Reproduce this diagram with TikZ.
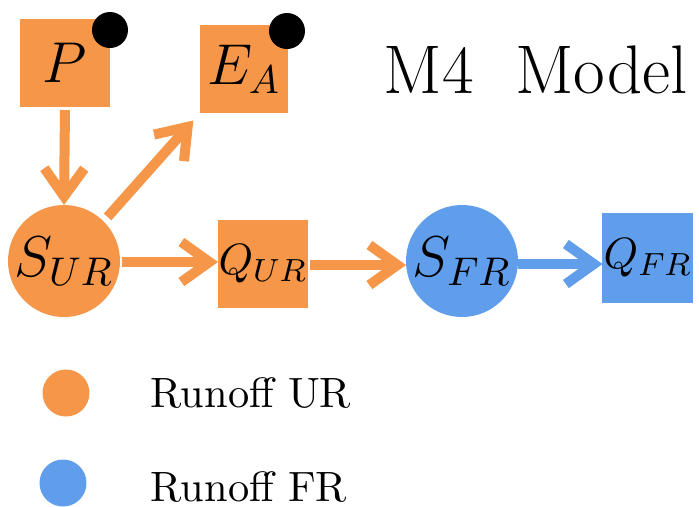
\documentclass[tikz,border=0pt]{standalone}
\usepackage{amsmath}
\usepackage{xcolor}
\definecolor{runorange}{RGB}{245, 150, 72}
\definecolor{runblue}{RGB}{96, 157, 234}
\usetikzlibrary{arrows.meta}

\begin{document}
\begin{tikzpicture}[x=0.25pt, y=-0.25pt, >={Straight Barb[length=7pt, width=10pt]},
    box/.style={fill=#1, minimum width=22.5pt, minimum height=22pt, inner sep=0pt, outer sep=0pt},
    store/.style={circle, fill=#1, minimum size=28pt, inner sep=0pt, outer sep=0pt},
    flow/.style={->, line width=2.5pt, draw=#1},
    blackdot/.style={circle, fill=black, minimum size=9pt, inner sep=0pt},
    legdot/.style={circle, fill=#1, minimum size=11.75pt, inner sep=0pt}]

\useasboundingbox (0, 0) rectangle (699, 506);

% === Forcings ===
\node[box=runorange, font=\Large] (P) at (65, 63) {$P$};
\node[box=runorange, minimum width=22pt, font=\Large] (EA) at (244, 69) {$E_A$};
\node[blackdot] (Pdot) at ([yshift=-2.75pt]P.north east) {};
\node[blackdot] (EAdot) at ([xshift=-0.25pt, yshift=-1.5pt]EA.north east) {};

% === Title ===
\node[anchor=base west, font=\fontsize{17.2}{20}\selectfont, inner sep=0pt] (title) at (383, 93) {M4~~Model};

% === Stores ===
\node[store=runorange, font=\Large] (SUR) at (64, 261) {$S_{UR}$};
\node[box=runorange, font=\fontsize{11}{13}\selectfont] (QUR) at (263, 264) {$Q_{UR}$};
\node[store=runblue, font=\Large] (SFR) at (462, 261) {$S_{FR}$};
\node[box=runblue, minimum width=22.75pt, minimum height=22.5pt, font=\fontsize{11}{13}\selectfont] (QFR) at (648, 258) {$Q_{FR}$};

% === Flows ===
\draw[flow=runorange, shorten <=0.75pt] (P.south) -- (SUR.north);
\draw[flow=runorange, shorten <=1.5pt, shorten >=2.5pt] (SUR.45) -- (EA.south west);
\draw[flow=runorange, shorten <=0.5pt] (SUR.east |- 0, 262) -- (QUR.west |- 0, 262);
\draw[flow=runorange, shorten <=0.5pt] (QUR.east |- 0, 265) -- (SFR.west |- 0, 265);
\draw[flow=runblue] (SFR.east |- 0, 264) -- (QFR.west |- 0, 264);

% === Legend ===
\node[legdot=runorange] (legUR) at (66, 393) {};
\node[legdot=runblue] (legFR) at (63, 483) {};
\node[anchor=base west, inner sep=0pt, font=\fontsize{10.6}{12.5}\selectfont] (txtUR) at (150, 407) {Runoff UR};
\node[anchor=base west, inner sep=0pt, font=\fontsize{10.6}{12.5}\selectfont] (txtFR) at (150, 501) {Runoff FR};

\end{tikzpicture}
\end{document}
